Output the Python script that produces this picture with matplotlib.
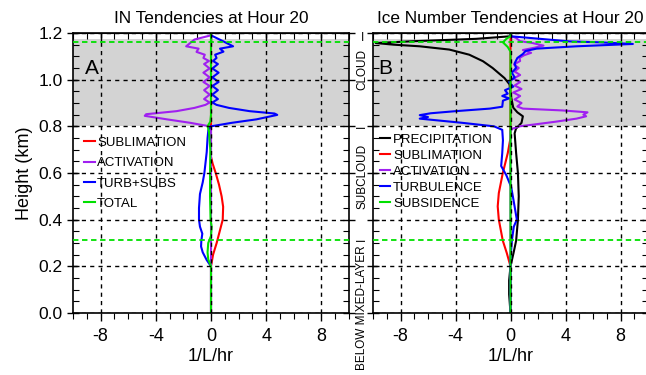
from matplotlib import pyplot as plt
from matplotlib.ticker import MultipleLocator

plt.rcParams['font.family'] = ['Liberation Sans', 'DejaVu Sans']

# ---- panel A: IN tendencies ----
h_subl_a = [0.0, 0.2, 0.25, 0.30, 0.35, 0.40, 0.455, 0.50, 0.55, 0.60, 0.64, 0.67, 1.2]
subl_a = [0, 0, 0.15, 0.41, 0.63, 0.85, 0.88, 0.77, 0.58, 0.34, 0.12, 0, 0]

h_act_a = [0.0, 0.795, 0.80, 0.815, 0.83, 0.845, 0.852, 0.865, 0.879, 0.892, 0.902,
           0.917, 0.936, 0.955, 0.973, 0.99, 1.01, 1.03, 1.048, 1.067, 1.08, 1.093,
           1.107, 1.119, 1.133, 1.143, 1.172, 1.19, 1.2]
act_a = [0, 0, -0.1, -1.5, -3.2, -4.8, -4.7, -2.5, -1.2, -0.4, -0.1,
         -0.5, -0.1, -0.5, -0.1, -0.55, -0.1, -0.55, -0.1, -0.5, -0.15, -0.55,
         -0.45, -1.05, -0.9, -1.8, -1.2, 0, 0]

h_turb_a = [0.0, 0.1, 0.2, 0.227, 0.26, 0.285, 0.31, 0.34, 0.37, 0.40, 0.45, 0.51,
            0.56, 0.60, 0.69, 0.75, 0.785, 0.80, 0.815, 0.83, 0.849, 0.855, 0.865,
            0.879, 0.892, 0.902, 0.917, 0.936, 0.955, 0.973, 0.99, 1.01, 1.03, 1.048,
            1.067, 1.08, 1.093, 1.107, 1.12, 1.133, 1.143, 1.164, 1.19, 1.2]
turb_a = [0, 0, 0, -0.31, -0.6, -0.72, -0.7, -0.63, -0.8, -0.87, -0.87, -0.8,
          -0.6, -0.48, -0.31, -0.25, -0.19, 0, 1.5, 3.3, 4.8, 4.6, 2.8,
          1.3, 0.4, 0.1, 0.5, 0.1, 0.5, 0.1, 0.55, 0.1, 0.55, 0.1,
          0.5, 0.15, 0.4, 0.3, 0.9, 0.65, 1.6, 0.9, 0, 0]

h_tot_a = [0.0, 0.2, 0.23, 0.26, 0.30, 0.33, 0.37, 0.40, 0.5, 0.6, 0.7, 0.78, 0.80,
           0.82, 0.85, 1.2]
tot_a = [0, 0, -0.2, -0.25, -0.2, 0, 0.05, -0.03, -0.07, -0.07, -0.05, -0.15, -0.25,
         -0.05, 0, 0]

# ---- panel B: ice number tendencies ----
h_prec_b = [0.0, 0.04, 0.08, 0.14, 0.2, 0.257, 0.31, 0.40, 0.50, 0.60, 0.685, 0.77,
            0.79, 0.815, 0.843, 0.86, 0.88, 0.94, 0.98, 1.007, 1.05, 1.079, 1.107,
            1.129, 1.143, 1.15, 1.157, 1.165, 1.175, 1.186, 1.2]
prec_b = [0, -0.05, -0.1, -0.1, 0, 0.22, 0.41, 0.54, 0.6, 0.54, 0.41, 0.3,
          0.4, 0.8, 0.9, 0.5, 0.2, 0, -0.07, -0.44, -1.3, -2.0, -3.0,
          -4.45, -6.6, -8.5, -9.8, -7.0, -2.5, 0, 0]

h_subl_b = [0.0, 0.2, 0.257, 0.31, 0.40, 0.457, 0.514, 0.60, 0.685, 0.75, 1.2]
subl_b = [0, 0, -0.27, -0.56, -0.85, -0.93, -0.85, -0.56, -0.2, 0, 0]

h_act_b = [0.0, 0.78, 0.79, 0.80, 0.81, 0.82, 0.833, 0.843, 0.85, 0.86, 0.868, 0.876,
           0.885, 0.90, 0.915, 0.93, 0.945, 0.96, 0.975, 0.99, 1.005, 1.02, 1.035,
           1.05, 1.065, 1.08, 1.093, 1.105, 1.115, 1.127, 1.137, 1.146, 1.157, 1.165,
           1.179, 1.186, 1.2]
act_b = [0, 0, 0.15, 0.65, 2.0, 3.3, 4.8, 5.5, 5.3, 5.6, 3.8, 0.9,
         0.5, 0.8, 0.3, 0.7, 0.2, 0.8, 0.3, 0.7, 0.2, 0.7, 0.3,
         0.6, 0.25, 0.7, 0.65, 1.0, 1.5, 0.9, 1.75, 2.4, 1.6, 0.7,
         0.4, 0, 0]

h_turb_b = [0.0, 0.2, 0.23, 0.31, 0.37, 0.40, 0.456, 0.50, 0.54, 0.59, 0.63, 0.685,
            0.74, 0.785, 0.80, 0.815, 0.833, 0.84, 0.848, 0.856, 0.865, 0.876, 0.884,
            0.91, 0.92, 0.93, 0.94, 0.955, 0.97, 0.99, 1.01, 1.03, 1.05, 1.07, 1.093,
            1.11, 1.123, 1.133, 1.143, 1.153, 1.16, 1.164, 1.186, 1.2]
turb_b = [0, 0, 0, 0.1, 0.24, 0.46, 0.3, 0.17, 0.05, -0.3, -0.68, -0.6,
          -0.55, -0.6, -1.2, -3.5, -6.6, -6.0, -6.6, -5.8, -4.0, -1.5, -0.6,
          -0.55, -0.1, -0.6, -0.2, -0.4, 0.2, -0.1, 0.3, 0.1, 0.4, 0.3, 0.5,
          0.9, 1.1, 1.9, 4.8, 8.9, 6.5, 4.3, 0, 0]

h_subs_b = [0.0, 1.12, 1.14, 1.16, 1.175, 1.186, 1.2]
subs_b = [0, 0, -0.2, -0.55, -0.3, 0, 0]

xticks = [-8, -4, 0, 4, 8]
yticks = [0.0, 0.2, 0.4, 0.6, 0.8, 1.0, 1.2]
ytick_labels = ['0.0', '0.2', '0.4', '0.6', '0.8', '1.0', '1.2']

cloud_base, cloud_top, shade_top, ml_top = 0.8, 1.16, 1.175, 0.315

RED, PURPLE, BLUE, GREEN, BLACK = '#ff0000', '#a020f0', '#0000ff', '#00e000', '#000000'

fig = plt.figure(figsize=(6.46, 3.75), dpi=100)
ax1 = fig.add_axes([73 / 646, 62 / 375, 276 / 646, 280 / 375])
ax2 = fig.add_axes([373 / 646, 62 / 375, 275 / 646, 280 / 375])


def style(ax, letter, letter_x):
    ax.axhspan(cloud_base, shade_top, color='#d3d3d3', zorder=0, lw=0)
    ax.set_xlim(-10, 10)
    ax.set_ylim(0, 1.2)
    ax.set_xticks(xticks)
    ax.set_xticklabels([str(v) for v in xticks])
    ax.xaxis.set_minor_locator(MultipleLocator(1))
    ax.set_yticks(yticks)
    ax.yaxis.set_minor_locator(MultipleLocator(0.05))
    ax.tick_params(axis='x', which='both', direction='out', top=False, labelsize=13, pad=5)
    ax.tick_params(axis='x', which='major', length=6, width=1)
    ax.tick_params(axis='x', which='minor', length=4, width=0.8)
    top = ax.secondary_xaxis('top')
    top.set_xticks(xticks)
    top.xaxis.set_minor_locator(MultipleLocator(1))
    top.tick_params(which='both', direction='in', labeltop=False)
    top.tick_params(which='major', length=6, width=1)
    top.tick_params(which='minor', length=4, width=0.8)
    ax.tick_params(axis='y', which='major', direction='inout', length=8, width=1, right=True)
    ax.tick_params(axis='y', which='minor', direction='in', length=4, width=0.8, right=True)
    ax.grid(True, which='major', color='black', ls=(0, (3, 3)), lw=1)
    ax.set_axisbelow(False)
    for s in ax.spines.values():
        s.set_linewidth(1.2)
    ax.axhline(cloud_top, color=GREEN, ls=(0, (3, 2)), lw=1.3, zorder=4)
    ax.axhline(ml_top, color=GREEN, ls=(0, (3, 2)), lw=1.3, zorder=4)
    ax.text(letter_x, 1.046, letter, fontsize=15, va='center', ha='left')
    ax.set_xlabel('1/L/hr', fontsize=13, labelpad=2)


lw = 1.5
ax1.plot(subl_a, h_subl_a, color=RED, lw=lw, label='SUBLIMATION')
ax1.plot(act_a, h_act_a, color=PURPLE, lw=lw, label='ACTIVATION')
ax1.plot(turb_a, h_turb_a, color=BLUE, lw=lw, label='TURB+SUBS')
ax1.plot(tot_a, h_tot_a, color=GREEN, lw=lw, label='TOTAL')
style(ax1, 'A', -9.1)
ax1.set_title('IN Tendencies at Hour 20', fontsize=12.4, pad=7)
ax1.set_ylabel('Height (km)', fontsize=13, labelpad=4)
ax1.set_yticklabels(ytick_labels)
ax1.tick_params(axis='y', labelsize=12.5)
ax1.legend(loc='upper left', bbox_to_anchor=(0.04, 0.63), frameon=False, fontsize=9.5,
           handlelength=0.8, handletextpad=0.2, labelspacing=0.62, borderpad=0,
           borderaxespad=0)

ax2.plot(prec_b, h_prec_b, color=BLACK, lw=lw, label='PRECIPITATION')
ax2.plot(subl_b, h_subl_b, color=RED, lw=lw, label='SUBLIMATION')
ax2.plot(act_b, h_act_b, color=PURPLE, lw=lw, label='ACTIVATION')
ax2.plot(turb_b, h_turb_b, color=BLUE, lw=lw, label='TURBULENCE')
ax2.plot(subs_b, h_subs_b, color=GREEN, lw=lw, label='SUBSIDENCE')
style(ax2, 'B', -9.6)
ax2.set_title('Ice Number Tendencies at Hour 20', fontsize=12.4, pad=7)
ax2.tick_params(axis='y', labelleft=False)
ax2.legend(loc='upper left', bbox_to_anchor=(0.025, 0.64), frameon=False, fontsize=9.5,
           handlelength=0.8, handletextpad=0.2, labelspacing=0.28, borderpad=0,
           borderaxespad=0)

# layer labels between the panels
tr = ax1.get_yaxis_transform()
xl = 1.048
ax1.text(xl, 1.18, 'I', transform=tr, fontsize=8.5, ha='center', va='center')
ax1.text(xl, 1.045, 'CLOUD', transform=tr, fontsize=8.5, rotation=90, ha='center', va='center')
ax1.text(xl, cloud_base, 'I', transform=tr, fontsize=8.5, rotation=90, ha='center', va='center')
ax1.text(xl, 0.585, 'SUBCLOUD', transform=tr, fontsize=8.5, rotation=90, ha='center', va='center')
ax1.text(xl, ml_top, 'I', transform=tr, fontsize=8.5, rotation=90, ha='center', va='center')
ax1.text(xl, 0.29, 'BELOW MIXED-LAYER', transform=tr, fontsize=8.5, rotation=90,
         ha='center', va='top', clip_on=False)

fig.savefig('out.png', dpi=100)
